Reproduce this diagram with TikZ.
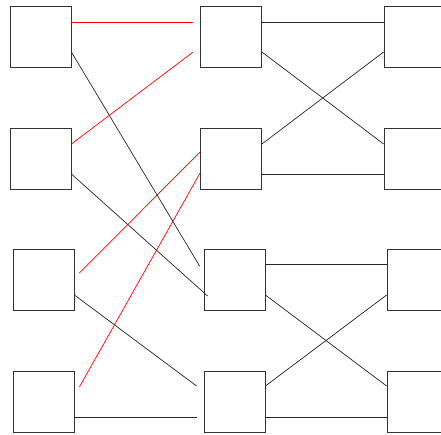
\documentclass[tikz,border=0pt]{standalone}
\usetikzlibrary{positioning}

\tikzset{
  quad/.style={draw=black!80, line width=0.8pt, minimum size=61pt, inner sep=0pt},
  filo/.style={line width=0.7pt, black!85},
  filorosso/.style={line width=0.7pt, red}
}

\begin{document}
\begin{tikzpicture}[x=1pt,y=-1pt]
      \clip (0,0) rectangle (441,434);
      \fill[white] (0,0) rectangle (441,434);
      %quadrati
      \node[quad] (a1) at (40.5,36.5) {};
      \node[quad] (a2) at (40.5,158.5) {};
      \node[quad] (a3) at (43.5,279.5) {};
      \node[quad] (a4) at (43.5,401.5) {};
      \node[quad] (b1) at (231,36.5) {};
      \node[quad] (b2) at (231,158.5) {};
      \node[quad] (b3) at (234.5,279.5) {};
      \node[quad] (b4) at (234.5,401.5) {};
      \node[quad] (c1) at (414.5,36.5) {};
      \node[quad] (c2) at (414.5,158.5) {};
      \node[quad] (c3) at (417.5,279.5) {};
      \node[quad] (c4) at (417.5,401.5) {};
      %collegamenti rossi
      \draw[filorosso] ([yshift=14.5pt]a1.east) -- ([xshift=-7pt,yshift=14.5pt]b1.west);
      \draw[filorosso] ([yshift=14.5pt]a2.east) -- ([xshift=-7pt,yshift=-15.5pt]b1.west);
      \draw[filorosso] ([xshift=5pt,yshift=6.5pt]a3.east) -- ([yshift=6.5pt]b2.west);
      \draw[filorosso] ([xshift=5pt,yshift=14.5pt]a4.east) -- ([yshift=-14.5pt]b2.west);
      %collegamenti neri
      \draw[filo] ([yshift=-15.5pt]a1.east) -- ([xshift=-4pt,yshift=13.5pt]b3.west);
      \draw[filo] ([yshift=-15.5pt]a2.east) -- ([xshift=4pt,yshift=-16.5pt]b3.west);
      \draw[filo] ([yshift=-15.5pt]a3.east) -- ([xshift=-7pt,yshift=15.5pt]b4.west);
      \draw[filo] ([yshift=-15.5pt]a4.east) -- ([xshift=-7pt,yshift=-15.5pt]b4.west);
      %incroci a destra
      \draw[filo] ([yshift=14.5pt]b1.east) -- ([yshift=14.5pt]c1.west);
      \draw[filo] ([yshift=-15.5pt]b1.east) -- ([yshift=14.5pt]c2.west);
      \draw[filo] ([yshift=14.5pt]b2.east) -- ([yshift=-15.5pt]c1.west);
      \draw[filo] ([yshift=-15.5pt]b2.east) -- ([yshift=-15.5pt]c2.west);
      \draw[filo] ([yshift=15.5pt]b3.east) -- ([yshift=15.5pt]c3.west);
      \draw[filo] ([yshift=-15.5pt]b3.east) -- ([yshift=15.5pt]c4.west);
      \draw[filo] ([yshift=15.5pt]b4.east) -- ([yshift=-15.5pt]c3.west);
      \draw[filo] ([yshift=-15.5pt]b4.east) -- ([yshift=-15.5pt]c4.west);
\end{tikzpicture}
\end{document}
